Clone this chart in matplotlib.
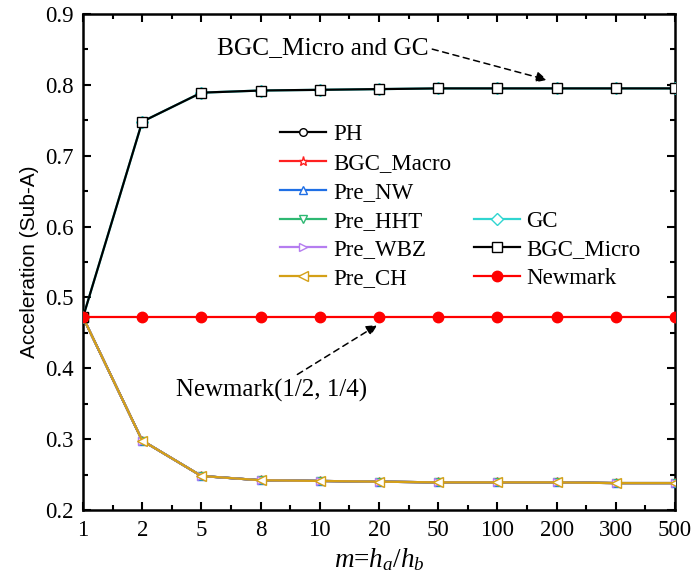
import matplotlib
matplotlib.use("Agg")
import matplotlib.pyplot as plt
from matplotlib.lines import Line2D
from matplotlib.ticker import MultipleLocator, FixedLocator

plt.rcParams["font.family"] = ["Liberation Serif", "DejaVu Serif"]
plt.rcParams["font.size"] = 16.5
plt.rcParams["mathtext.fontset"] = "custom"
plt.rcParams["mathtext.rm"] = "Liberation Serif"
plt.rcParams["mathtext.it"] = "Liberation Serif:italic"

# m = ha/hb categories
m_labels = ["1", "2", "5", "8", "10", "20", "50", "100", "200", "300", "500"]

# acceleration
ph        = [0.472, 0.298, 0.248, 0.242, 0.241, 0.240, 0.239, 0.239, 0.239, 0.238, 0.238]
bgc_macro = [0.472, 0.298, 0.248, 0.242, 0.241, 0.240, 0.239, 0.239, 0.239, 0.238, 0.238]
pre_nw    = [0.472, 0.298, 0.248, 0.242, 0.241, 0.240, 0.239, 0.239, 0.239, 0.238, 0.238]
pre_hht   = [0.472, 0.298, 0.248, 0.242, 0.241, 0.240, 0.239, 0.239, 0.239, 0.238, 0.238]
pre_wbz   = [0.472, 0.298, 0.248, 0.242, 0.241, 0.240, 0.239, 0.239, 0.239, 0.238, 0.238]
pre_ch    = [0.472, 0.298, 0.248, 0.242, 0.241, 0.240, 0.239, 0.239, 0.239, 0.238, 0.238]
gc        = [0.472, 0.748, 0.789, 0.792, 0.793, 0.794, 0.795, 0.795, 0.795, 0.795, 0.795]
bgc_micro = [0.472, 0.748, 0.789, 0.792, 0.793, 0.794, 0.795, 0.795, 0.795, 0.795, 0.795]
newmark   = [0.472, 0.472, 0.472, 0.472, 0.472, 0.472, 0.472, 0.472, 0.472, 0.472, 0.472]

x = list(range(len(m_labels)))

fig = plt.figure(figsize=(6.94, 5.77), dpi=100)
ax = fig.add_axes([83 / 694, 67 / 577, 592 / 694, 496 / 577])

# name, values, colour, marker, face, size
series = [
    ("PH",        ph,        "#000000", "o", "white", 5.5),
    ("BGC_Macro", bgc_macro, "#ff2020", "*", "white", 6.5),
    ("Pre_NW",    pre_nw,    "#1f6fe5", "^", "white", 6),
    ("Pre_HHT",   pre_hht,   "#2eb872", "v", "white", 6),
    ("Pre_WBZ",   pre_wbz,   "#b57df0", ">", "white", 6),
    ("Pre_CH",    pre_ch,    "#d4a017", "<", "white", 7),
    ("GC",        gc,        "#30d5d0", "D", "white", 6.5),
    ("BGC_Micro", bgc_micro, "#000000", "s", "white", 7),
    ("Newmark",   newmark,   "#ff0000", "o", "#ff0000", 7.5),
]

handles = {}
for i, (name, vals, col, mk, fc, ms) in enumerate(series):
    ln, = ax.plot(x, vals, color=col, lw=1.6, marker=mk, ms=ms, mfc=fc,
                  mec=col, mew=1.0, zorder=2 + i, label=name)
    handles[name] = ln

blank = Line2D([], [], linestyle="none", marker=None)
order = [handles["PH"], handles["BGC_Macro"], handles["Pre_NW"], handles["Pre_HHT"],
         handles["Pre_WBZ"], handles["Pre_CH"], blank, blank, blank,
         handles["GC"], handles["BGC_Micro"], handles["Newmark"]]
labels = ["PH", "BGC_Macro", "Pre_NW", "Pre_HHT", "Pre_WBZ", "Pre_CH", "", "", "",
          "GC", "BGC_Micro", "Newmark"]
ax.legend(order, labels, ncol=2, frameon=False, loc="upper left",
          bbox_to_anchor=(0.333, 0.778), borderaxespad=0, borderpad=0,
          handlelength=2.0, handletextpad=0.3, columnspacing=1.0,
          labelspacing=0.34, fontsize=16.5, markerscale=1.0)

ax.set_xlim(0, 10)
ax.set_ylim(0.2, 0.9)
ax.set_xticks(x)
ax.set_xticklabels(m_labels)
ax.xaxis.set_minor_locator(FixedLocator([v + 0.5 for v in x[:-1]]))
ax.yaxis.set_major_locator(MultipleLocator(0.1))
ax.yaxis.set_minor_locator(MultipleLocator(0.05))
ax.yaxis.set_major_formatter(plt.FuncFormatter(lambda v, _: f"{v:.1f}"))

ax.tick_params(which="both", direction="in", top=True, right=True, width=1.5)
ax.tick_params(which="major", length=6, pad=7)
ax.tick_params(which="minor", length=3.5)
for sp in ax.spines.values():
    sp.set_linewidth(1.8)

ax.set_ylabel("Acceleration (Sub-A)", family=["Liberation Sans", "DejaVu Sans"],
              fontsize=15, labelpad=4)
ax.set_xlabel("$m$=$h_a$/$h_b$", fontsize=19.5, labelpad=4)

ax.annotate("BGC_Micro and GC", xy=(7.84, 0.807), xytext=(5.83, 0.852),
            ha="right", va="center", fontsize=18.3,
            arrowprops=dict(arrowstyle="-|>", color="k", lw=1.1,
                            linestyle=(0, (4, 3)), mutation_scale=16,
                            relpos=(1.0, 0.5), shrinkA=1, shrinkB=0))
ax.annotate("Newmark(1/2, 1/4)", xy=(4.97, 0.461), xytext=(3.19, 0.369),
            ha="center", va="center", fontsize=17.9,
            arrowprops=dict(arrowstyle="-|>", color="k", lw=1.1,
                            linestyle=(0, (4, 3)), mutation_scale=16,
                            shrinkA=2, shrinkB=0))

fig.savefig("out.png", dpi=100)
